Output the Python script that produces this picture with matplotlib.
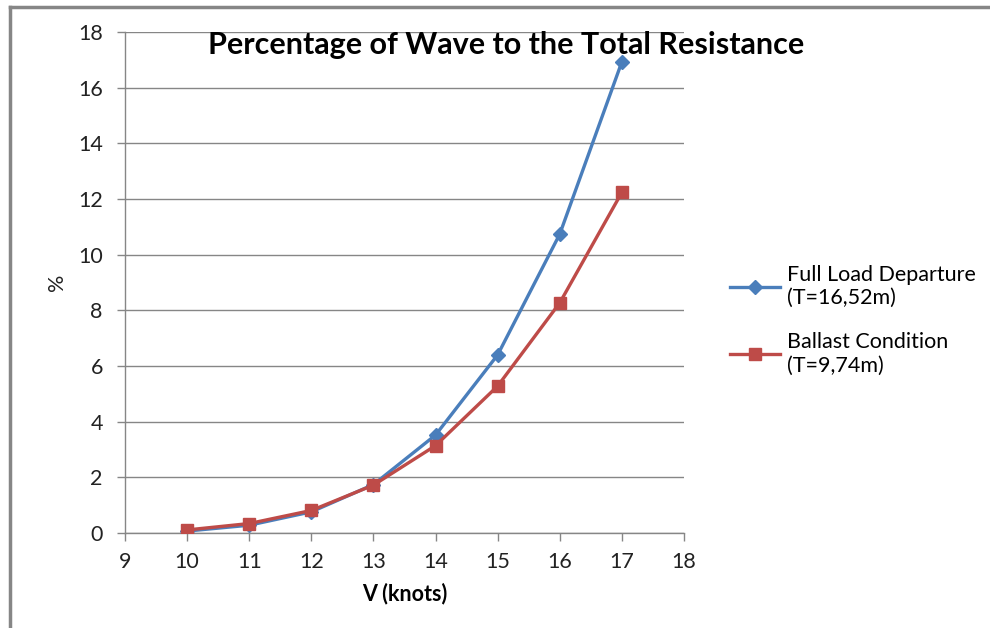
import matplotlib
matplotlib.use("Agg")
import matplotlib.pyplot as plt
from matplotlib.lines import Line2D

speed = [10, 11, 12, 13, 14, 15, 16, 17]
full_load = [0.07, 0.28, 0.76, 1.74, 3.52, 6.40, 10.74, 16.93]
ballast = [0.11, 0.34, 0.81, 1.72, 3.14, 5.28, 8.27, 12.24]
series_labels = ["Full Load Departure\n(T=16,52m)", "Ballast Condition\n(T=9,74m)"]
x_ticks = [9, 10, 11, 12, 13, 14, 15, 16, 17, 18]
y_ticks = [0, 2, 4, 6, 8, 10, 12, 14, 16, 18]
title = "Percentage of Wave to the Total Resistance"
x_label = "V (knots)"
y_label = "%"

plt.rcParams['font.family'] = ['Lato', 'DejaVu Sans']

fig = plt.figure(figsize=(9.9, 6.28), dpi=100)
ax = fig.add_axes([125/990, 95/628, (684-125)/990, (533-32)/628])

blue = "#4a7ebb"
red = "#be4b48"
grey = "#868686"

ax.plot(speed, full_load, color=blue, lw=2.4, marker="D", ms=7, mfc=blue, mec=blue,
        label=series_labels[0], zorder=3)
ax.plot(speed, ballast, color=red, lw=2.4, marker="s", ms=8.5, mfc=red, mec=red,
        label=series_labels[1], zorder=4)

ax.set_xlim(9, 18)
ax.set_ylim(0, 18)
ax.set_xticks(x_ticks)
ax.set_yticks(y_ticks)
ax.tick_params(axis="both", labelsize=15.5, colors=grey, labelcolor="#222222",
               length=6, width=1, direction="out")
ax.tick_params(axis="y", pad=10)
ax.tick_params(axis="x", pad=8)
ax.grid(axis="y", color=grey, lw=1)
ax.set_axisbelow(True)
for s in ["top", "right"]:
    ax.spines[s].set_visible(False)
for s in ["left", "bottom"]:
    ax.spines[s].set_color(grey)
    ax.spines[s].set_linewidth(1)

ax.set_xlabel(x_label, fontsize=15.5, fontweight="bold", labelpad=7)
fig.text(57/990, 1-282/628, y_label, rotation=90, fontsize=15.5, ha="center", va="center",
         color="#222222")
fig.text(506/990, 1-45/628, title, fontsize=22, fontweight="bold", ha="center", va="center")

ax.legend(loc="upper left", bbox_to_anchor=(730/990, 1-265/628), bbox_transform=fig.transFigure,
          frameon=False, fontsize=15.5, handlelength=2.3, handletextpad=0.35, labelspacing=1.12,
          borderaxespad=0, borderpad=0)

fig.add_artist(Line2D([10/990, 1], [1-7/628, 1-7/628], color=grey, lw=2.5, transform=fig.transFigure))
fig.add_artist(Line2D([10/990, 10/990], [0, 1-7/628], color=grey, lw=2.5, transform=fig.transFigure))

fig.savefig("out.png", dpi=100)
